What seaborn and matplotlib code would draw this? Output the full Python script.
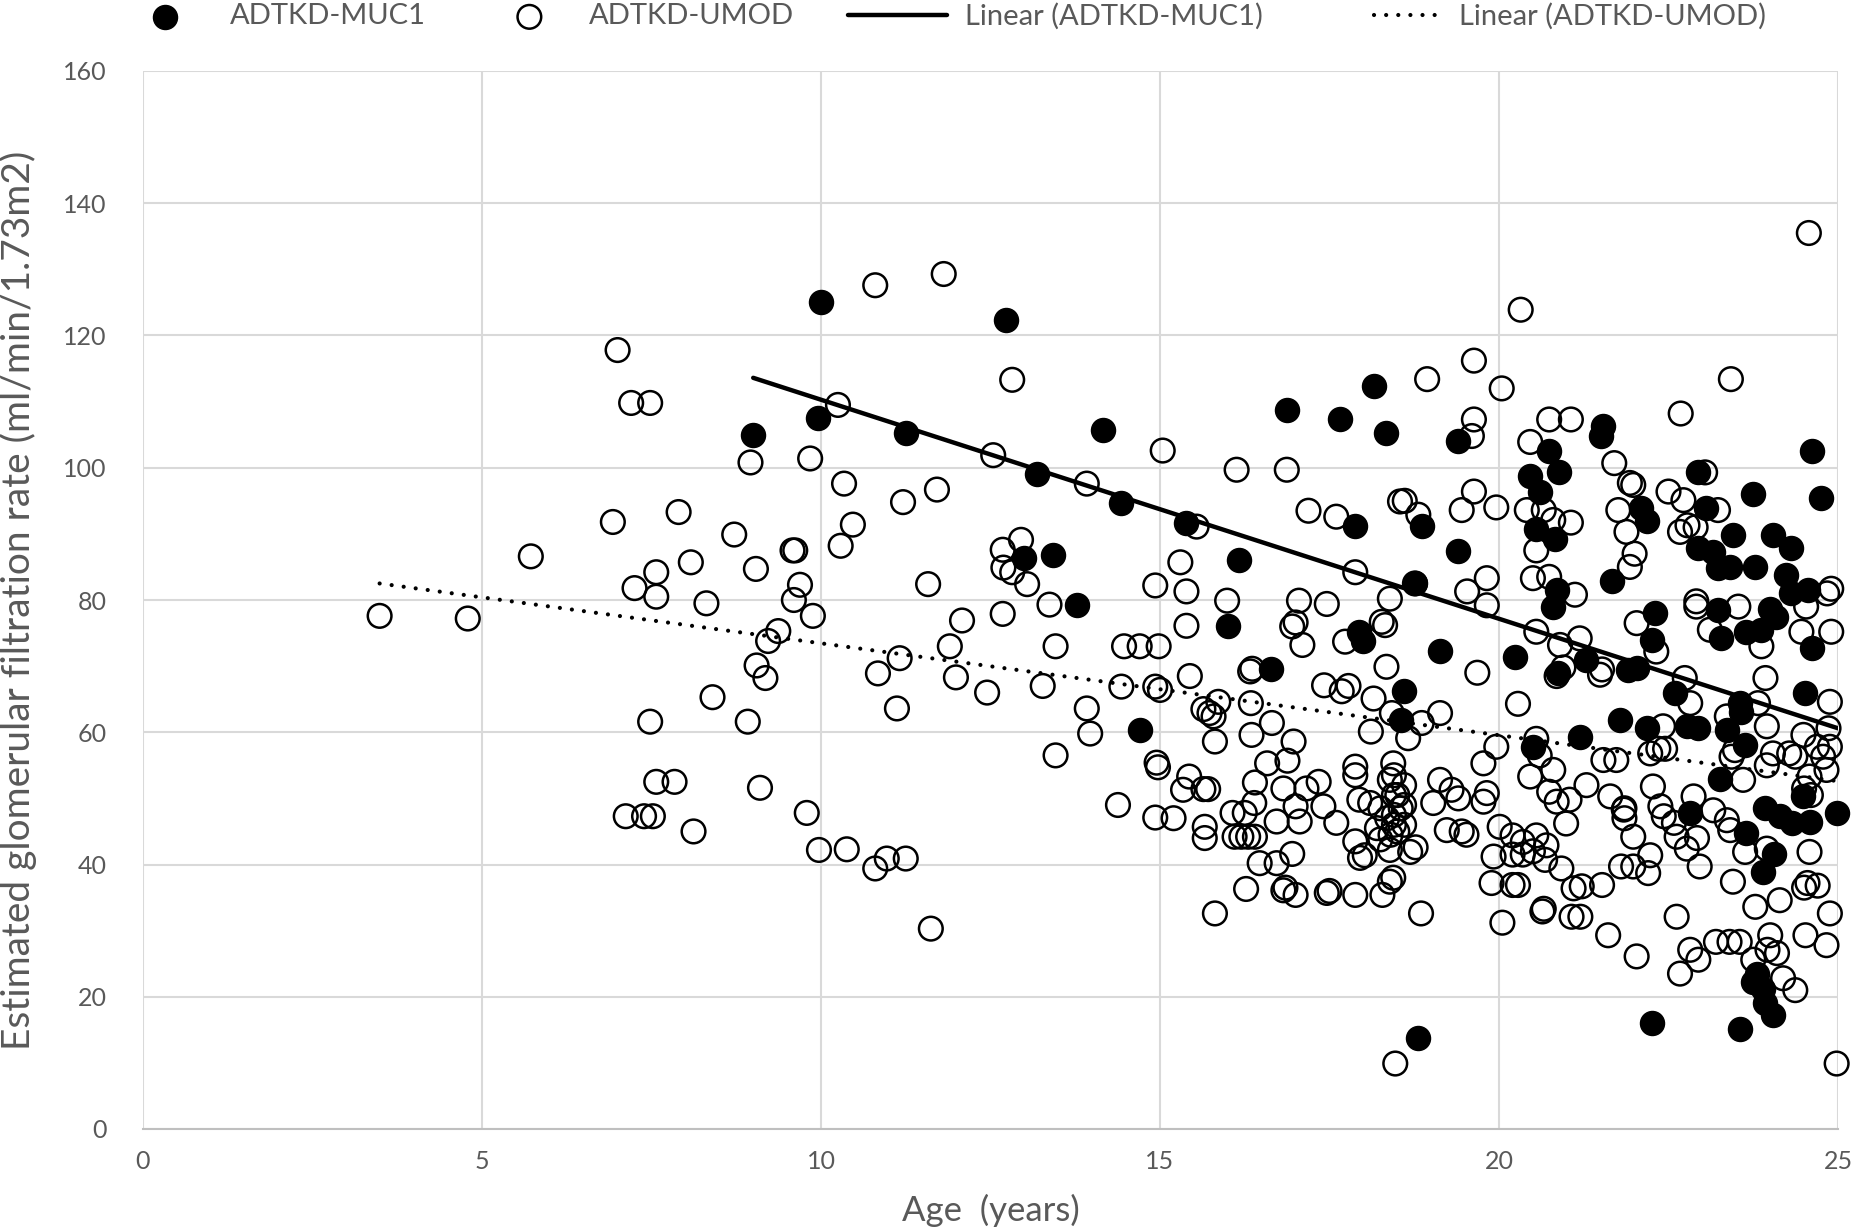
import numpy as np
import pandas as pd
import matplotlib
matplotlib.use("Agg")
import matplotlib.pyplot as plt
import seaborn as sns

# ---------------- data ----------------
muc1_age = [9.00, 9.95, 10.00, 11.26, 12.73, 13.19, 13.00, 13.42, 13.78, 14.16, 14.43, 14.70,
            15.39, 16.17, 16.00, 16.64, 16.87, 17.66, 18.16, 18.34, 17.88, 17.94, 18.00, 18.60,
            18.55, 18.87, 19.40, 19.40, 19.13, 18.76, 18.81, 20.46, 20.88, 20.74, 20.60, 20.55,
            20.83, 20.85, 20.79, 20.24, 20.87, 20.50, 21.54, 21.51, 21.66, 21.29, 21.19, 21.78,
            21.90, 22.10, 22.18, 22.94, 23.06, 23.74, 24.61, 24.75, 23.45, 24.04, 24.31, 22.94,
            23.16, 23.23, 23.40, 23.78, 24.24, 24.31, 24.56, 22.30, 22.25, 23.23, 23.28, 23.65,
            23.87, 24.00, 24.09, 24.61, 22.03, 22.60, 23.55, 23.57, 24.52, 22.18, 22.77, 22.94,
            23.36, 23.63, 23.26, 22.82, 23.93, 24.14, 24.32, 24.49, 24.58, 24.98, 23.65, 24.06,
            23.89, 23.80, 23.75, 23.90, 23.92, 24.04, 22.26, 23.55]
muc1_egfr = [105.0, 107.5, 125.0, 105.3, 122.3, 99.1, 86.3, 86.8, 79.3, 105.7, 94.7, 60.3,
             91.7, 86.1, 76.1, 69.5, 108.7, 107.3, 112.4, 105.3, 91.2, 75.1, 73.8, 66.2,
             61.8, 91.2, 104.1, 87.4, 72.3, 82.5, 13.7, 98.8, 99.3, 102.5, 96.4, 90.8,
             89.3, 81.5, 79.0, 71.4, 69.0, 57.8, 106.3, 104.8, 82.8, 70.9, 59.3, 61.9,
             69.4, 93.9, 91.9, 99.3, 93.9, 96.0, 102.5, 95.5, 89.8, 89.8, 87.8, 87.8,
             87.3, 84.8, 85.0, 85.0, 83.8, 81.0, 81.5, 78.0, 73.9, 78.5, 74.2, 75.2,
             75.4, 78.7, 77.5, 72.7, 69.7, 65.9, 64.4, 63.0, 65.9, 60.6, 60.9, 60.6,
             60.3, 58.1, 53.0, 47.8, 48.5, 47.3, 46.3, 50.3, 46.5, 47.8, 44.7, 41.6,
             38.9, 23.5, 22.3, 21.1, 19.0, 17.2, 16.1, 15.1]

umod_age = [
    3.49, 4.79, 5.72, 6.93, 7.00, 7.20, 7.48, 7.25, 7.57, 7.57, 7.90, 8.08, 8.31, 8.40, 7.48, 7.57,
    7.84, 7.12, 7.39, 7.52, 8.12, 8.72, 8.92, 8.96, 9.04, 9.05, 9.18, 9.22, 9.37, 9.10, 9.58, 9.62,
    9.60, 9.69, 9.79, 9.84, 9.88, 9.97,
    10.80, 11.81, 12.82, 10.25, 12.54, 13.92, 10.34, 11.21, 11.71, 10.47, 10.29, 12.68, 12.95, 12.69,
    12.82, 13.04, 11.58, 13.37, 14.93, 12.08, 12.68, 11.90, 13.46, 11.16, 10.84, 11.99, 12.45, 13.27,
    11.12, 14.47, 14.70, 14.98, 14.43, 14.93, 15.00, 13.92, 13.97, 13.46, 14.95, 14.97, 14.38, 14.93,
    10.38, 10.80, 10.97, 11.25, 11.62,
    15.04, 16.13, 16.87, 17.19, 17.60, 15.54, 15.30, 17.88, 18.54,
    15.39, 15.39, 15.99, 15.44, 16.33, 16.36, 17.05, 17.46, 17.00, 16.95, 17.10, 18.39, 18.27, 18.32,
    18.34, 17.73, 17.42, 17.78, 17.68, 18.15, 18.42, 18.11, 15.86, 15.64, 15.73, 15.79, 16.34, 16.65,
    16.35, 15.81, 16.97, 16.88, 16.58, 15.43, 15.34, 15.64, 15.71, 16.40, 16.82, 17.16, 17.34, 17.88,
    17.88, 18.44, 18.39, 17.94, 18.10, 15.20, 15.66, 15.66, 16.07, 16.25, 16.39, 16.10, 16.20, 16.30,
    16.40, 16.72, 17.06, 17.00, 17.41, 17.60, 16.95, 16.47, 16.72, 17.88, 18.02, 17.95, 18.39, 18.25,
    18.35, 18.45, 18.20, 18.40, 18.25, 18.50, 18.55,
    16.27, 16.82, 16.85, 17.00, 17.46, 17.50, 17.88, 18.28, 18.39, 18.44, 15.81, 18.47,
    20.32, 19.63, 18.94, 20.04, 19.63, 19.60, 20.74, 21.06, 20.46, 21.70, 18.61, 18.81, 19.63, 19.45,
    19.96, 20.41, 20.66, 20.80, 21.06, 20.55, 21.76, 21.88, 21.93,
    18.76, 19.82, 19.53, 19.82, 20.50, 20.74, 21.12, 21.93, 20.55, 20.90, 21.19, 21.49, 21.52, 19.68,
    20.28, 19.13, 18.86, 18.66, 19.96, 19.77, 20.55, 20.60, 21.54, 21.73, 21.29, 19.13, 19.30, 19.40,
    19.82, 19.77, 19.03, 19.23, 19.45, 19.52, 20.46, 20.80, 20.74, 20.85, 20.99, 21.04, 21.64, 21.84,
    20.01, 20.20, 20.35, 20.55, 20.70, 19.92, 18.69, 18.77, 20.85, 20.95, 18.45, 18.60, 18.45, 18.60,
    18.45, 18.60, 18.50,
    18.85, 19.89, 20.20, 20.28, 20.05, 20.64, 20.66, 21.07, 21.20, 20.68, 20.92, 21.10, 21.22, 21.52,
    21.61, 20.20, 20.35, 20.50,
    24.57, 23.42, 22.68, 23.04, 21.98, 22.50, 22.72, 23.23, 22.67, 22.78, 22.90, 22.00,
    22.03, 22.32, 22.91, 22.91, 23.11, 23.53, 23.87, 24.53, 24.90, 24.84, 24.90, 24.46, 23.93, 22.74,
    22.82, 23.36, 23.82, 23.95, 22.42, 24.88, 24.86, 24.49, 24.88, 24.69, 24.28, 24.37, 24.04, 23.95,
    23.48, 23.43, 23.60, 24.78, 24.83, 24.58, 24.50, 24.60, 22.23, 22.35, 22.45, 22.27, 22.87, 21.85,
    21.85, 22.38, 22.43, 22.58, 21.98, 22.62, 22.92, 23.16, 23.36, 23.41, 23.63, 23.95, 24.58, 22.23,
    22.77,
    23.45, 23.78, 24.14, 24.50, 24.55, 24.70, 24.88, 22.62, 22.96, 22.20, 21.80, 21.98, 22.03, 22.82,
    22.94, 22.67, 23.20, 23.40, 23.55, 24.00, 24.10, 23.96, 23.75, 24.52, 24.83, 24.19, 24.37, 24.98]
umod_egfr = [
    77.6, 77.2, 86.6, 91.8, 117.8, 109.8, 109.8, 81.8, 84.2, 80.5, 93.3, 85.7, 79.5, 65.3, 61.6, 52.5,
    52.5, 47.3, 47.3, 47.3, 45.0, 89.9, 61.6, 100.8, 84.7, 70.1, 68.2, 73.8, 75.3, 51.6, 87.5, 87.5,
    80.0, 82.3, 47.8, 101.4, 77.6, 42.2,
    127.6, 129.3, 113.3, 109.5, 101.9, 97.6, 97.6, 94.8, 96.7, 91.4, 88.2, 87.6, 89.1, 84.9,
    84.2, 82.4, 82.4, 79.3, 82.2, 76.9, 77.9, 73.0, 73.0, 71.2, 68.9, 68.3, 66.0, 67.0,
    63.6, 73.0, 73.0, 73.0, 66.9, 66.9, 66.4, 63.6, 59.8, 56.5, 55.4, 54.7, 49.0, 47.1,
    42.3, 39.4, 40.9, 40.9, 30.3,
    102.6, 99.7, 99.7, 93.5, 92.6, 91.1, 85.7, 84.2, 94.9,
    81.3, 76.1, 79.9, 68.5, 69.2, 69.6, 79.9, 79.4, 76.6, 76.0, 73.2, 80.2, 76.7, 76.2,
    69.9, 73.7, 67.1, 67.0, 66.2, 65.1, 62.9, 60.1, 64.6, 63.5, 62.9, 62.4, 64.4, 61.4,
    59.6, 58.6, 58.6, 55.7, 55.3, 53.3, 51.3, 51.4, 51.4, 52.4, 51.5, 51.5, 52.5, 54.8,
    53.5, 55.3, 52.8, 49.8, 49.3, 47.0, 45.7, 44.0, 47.8, 47.8, 49.3, 44.2, 44.2, 44.2,
    44.2, 46.5, 46.5, 48.8, 48.8, 46.3, 41.6, 40.2, 40.2, 43.5, 41.4, 41.0, 42.2, 48.5,
    47.0, 46.0, 45.5, 44.5, 43.8, 50.5, 48.5,
    36.3, 36.1, 36.5, 35.4, 35.7, 36.0, 35.4, 35.4, 37.4, 38.0, 32.6, 9.9,
    123.9, 116.2, 113.4, 112.0, 107.3, 104.8, 107.3, 107.3, 103.9, 100.7, 95.0, 92.9, 96.4, 93.6,
    94.0, 93.6, 93.6, 92.1, 91.7, 87.5, 93.6, 90.3, 97.7,
    82.5, 83.3, 81.3, 79.2, 83.3, 83.5, 80.8, 85.0, 75.2, 73.2, 74.2, 68.7, 69.5, 69.0,
    64.3, 62.9, 61.4, 59.1, 57.8, 55.3, 59.0, 56.5, 55.8, 55.8, 52.0, 52.8, 51.3, 50.0,
    50.8, 49.5, 49.3, 45.2, 45.0, 44.5, 53.3, 54.3, 51.0, 49.5, 46.2, 49.8, 50.3, 48.3,
    45.7, 44.4, 43.4, 44.4, 42.9, 41.2, 41.9, 42.6, 68.5, 69.8, 53.5, 52.0, 50.5, 49.0,
    47.5, 46.0, 45.0,
    32.6, 37.2, 36.9, 36.9, 31.2, 32.9, 33.3, 32.1, 32.1, 40.7, 39.4, 36.4, 36.7, 36.9,
    29.3, 41.5, 41.5, 42.0,
    135.5, 113.4, 108.2, 99.3, 97.4, 96.4, 95.1, 93.6, 90.3, 91.3, 91.0, 87.0,
    76.5, 72.2, 79.8, 79.0, 75.5, 79.0, 73.0, 79.0, 81.7, 81.0, 75.2, 75.2, 68.2, 68.2,
    64.4, 62.4, 64.4, 60.9, 60.9, 64.6, 60.6, 59.6, 57.8, 57.8, 56.8, 56.3, 56.8, 55.0,
    57.3, 56.3, 52.8, 56.3, 54.3, 53.3, 51.5, 50.5, 56.8, 57.5, 57.5, 51.8, 50.3, 48.5,
    47.0, 48.8, 47.3, 46.3, 44.2, 44.2, 44.0, 48.2, 46.7, 45.2, 41.9, 42.4, 41.9, 41.4,
    42.4,
    37.4, 33.6, 34.6, 36.5, 37.2, 36.8, 32.6, 32.1, 39.7, 38.7, 39.7, 39.7, 26.1, 27.1,
    25.6, 23.5, 28.3, 28.3, 28.3, 29.3, 26.6, 27.1, 25.6, 29.3, 27.8, 22.8, 21.0, 9.9]

trend_muc1_age = [9.0, 25.0]
trend_muc1_egfr = [113.6, 60.6]
trend_umod_age = [3.49, 25.0]
trend_umod_egfr = [82.5, 52.6]

x_ticks = [0, 5, 10, 15, 20, 25]
y_ticks = [0, 20, 40, 60, 80, 100, 120, 140, 160]

series_labels = ["ADTKD-MUC1", "ADTKD-UMOD", "Linear (ADTKD-MUC1)", "Linear (ADTKD-UMOD)"]
x_title = "Age  (years)"
y_title = "Estimated glomerular filtration rate (ml/min/1.73m2)"

# ---------------- style ----------------
sns.set_theme(style="white")
plt.rcParams['font.family'] = ['Lato', 'DejaVu Sans']
GRAY = "#595959"
W, H = 1857, 1230

fig = plt.figure(figsize=(W / 100, H / 100), dpi=100)
ax = fig.add_axes([143 / W, 1 - 1129 / H, (1838 - 143) / W, (1129 - 71) / H])

muc1 = pd.DataFrame({"age": muc1_age, "egfr": muc1_egfr})
umod = pd.DataFrame({"age": umod_age, "egfr": umod_egfr})

sns.scatterplot(data=muc1, x="age", y="egfr", ax=ax, marker="o", s=300,
                color="black", edgecolor="black", linewidth=1.0,
                label=series_labels[0], zorder=3, clip_on=False)
sns.scatterplot(data=umod, x="age", y="egfr", ax=ax, marker="o", s=290,
                facecolor="none", edgecolor="black", linewidth=1.8,
                label=series_labels[1], zorder=4, clip_on=False)
sns.lineplot(x=trend_muc1_age, y=trend_muc1_egfr, ax=ax, color="black", lw=3.2,
             label=series_labels[2], zorder=5)
sns.lineplot(x=trend_umod_age, y=trend_umod_egfr, ax=ax, color="black", lw=3.0,
             linestyle=(0, (0.01, 2.9)), dash_capstyle="round",
             label=series_labels[3], zorder=5)

ax.set_xlim(0, 25)
ax.set_ylim(0, 160)
ax.set_xticks(x_ticks)
ax.set_yticks(y_ticks)
ax.set_xticklabels([str(t) for t in x_ticks])
ax.set_yticklabels([str(t) for t in y_ticks])
ax.tick_params(axis="both", length=0, labelsize=18, labelcolor=GRAY)
ax.tick_params(axis="x", pad=15)
ax.tick_params(axis="y", pad=26)
ax.grid(True, color="#d9d9d9", lw=1.5)
ax.set_axisbelow(True)
for side in ["top", "right", "left"]:
    ax.spines[side].set_visible(False)
ax.spines["bottom"].set_color("#bfbfbf")
ax.spines["bottom"].set_linewidth(1.5)

ax.set_xlabel(x_title, fontsize=25, color=GRAY)
ax.set_ylabel(y_title, fontsize=28, color=GRAY)
ax.xaxis.label.set_va("center")
ax.xaxis.set_label_coords(0.5, (1129 - 1210) / 1058)
ax.yaxis.label.set_va("center")
ax.yaxis.label.set_ha("center")
ax.yaxis.set_label_coords((18 - 143) / 1695, 0.5)

handles, labels = ax.get_legend_handles_labels()
ax.get_legend().remove()
# one legend entry per box, placed like the reference
# (handle start in shrunk-image px, handle length and text pad in font-size units)
entry_x = [97, 405, 716, 1160]
entry_len = [3.41, 3.41, 3.41, 2.36]
entry_pad = [0.53, 0.35, 0.61, 0.57]
for h, lab, xs, hl, hp in zip(handles, labels, entry_x, entry_len, entry_pad):
    leg = fig.legend([h], [lab], loc="center left",
                     bbox_to_anchor=(xs / 1568, 1 - 16.5 / H),
                     frameon=False, fontsize=21, handlelength=hl, handletextpad=hp,
                     borderpad=0, borderaxespad=0)
    for t in leg.get_texts():
        t.set_color(GRAY)

fig.savefig("out.png", dpi=100)
